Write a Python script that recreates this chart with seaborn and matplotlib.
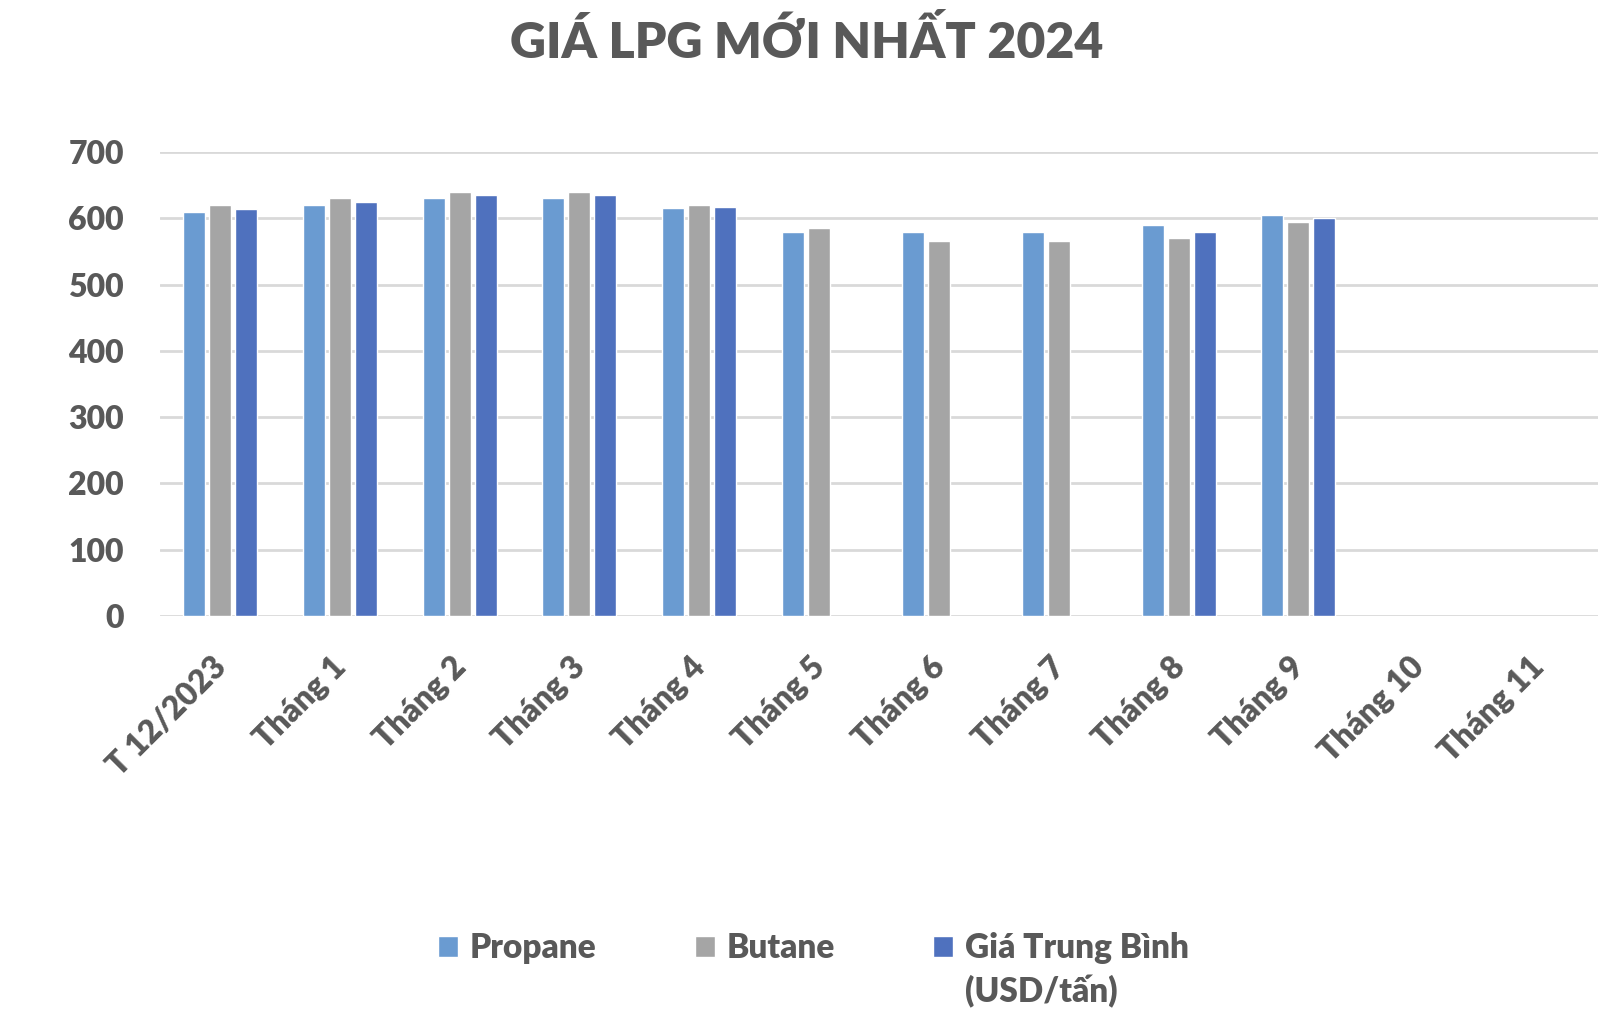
import matplotlib
matplotlib.use("Agg")
import matplotlib.pyplot as plt
import matplotlib.transforms as mtransforms
import seaborn as sns
import pandas as pd
import numpy as np

categories = ["T 12/2023", "Tháng 1", "Tháng 2", "Tháng 3", "Tháng 4", "Tháng 5",
              "Tháng 6", "Tháng 7", "Tháng 8", "Tháng 9", "Tháng 10", "Tháng 11"]
propane = [610, 620, 630, 630, 615, 580, 580, 580, 590, 605, np.nan, np.nan]
butane = [620, 630, 640, 640, 620, 585, 565, 565, 570, 595, np.nan, np.nan]
average = [614, 625, 635, 635, 617, np.nan, np.nan, np.nan, 580, 600, np.nan, np.nan]
series_names = ["Propane", "Butane", "Giá Trung Bình"]
series_unit = "(USD/tấn)"
colors = ["#6A9BD1", "#A5A5A5", "#4F71BE"]
yticks = [0, 100, 200, 300, 400, 500, 600, 700]

rows = []
for name, vals in zip(series_names, [propane, butane, average]):
    for c, v in zip(categories, vals):
        rows.append({"cat": c, "series": name, "value": v})
df = pd.DataFrame(rows)

sns.set_theme(style="white")
plt.rcParams["font.family"] = ["Lato", "DejaVu Sans"]
text_color = "#595959"
W = "heavy"

fig = plt.figure(figsize=(16.14, 10.18), dpi=100)
ax = fig.add_axes([160 / 1614, 1 - 616 / 1018, (1598 - 160) / 1614, (616 - 152) / 1018])

sns.barplot(data=df, x="cat", y="value", hue="series", order=categories,
            hue_order=series_names, palette=colors, width=0.65, gap=0.15,
            errorbar=None, ax=ax, saturation=1, legend=True)

ax.set_ylim(0, 700)
ax.set_xlim(-0.5, len(categories) - 0.5)
ax.set_yticks(yticks)
ax.yaxis.grid(True, color="#D9D9D9", linewidth=2)
ax.set_axisbelow(True)
for s in ax.spines.values():
    s.set_visible(False)
ax.set_xlabel("")
ax.set_ylabel("")
ax.tick_params(axis="both", length=0)
ax.tick_params(axis="y", pad=26)
ax.tick_params(axis="x", pad=26)
for lab in ax.get_yticklabels():
    lab.set_fontsize(23)
    lab.set_fontweight(W)
    lab.set_color(text_color)
shift = mtransforms.ScaledTranslation(-9 / 100, 0, fig.dpi_scale_trans)
for lab in ax.get_xticklabels():
    lab.set_fontsize(23)
    lab.set_fontweight(W)
    lab.set_color(text_color)
    lab.set_rotation(45)
    lab.set_ha("right")
    lab.set_va("top")
    lab.set_rotation_mode("anchor")
    lab.set_transform(lab.get_transform() + shift)

handles, labels = ax.get_legend_handles_labels()
ax.get_legend().remove()
leg = fig.legend(handles, labels, loc="upper center", bbox_to_anchor=(0.504, 0.114),
                 ncol=3, frameon=False, fontsize=24, handlelength=0.6, handleheight=0.6,
                 handletextpad=0.35, columnspacing=2.95)
for t in leg.get_texts():
    t.set_color(text_color)
    t.set_fontweight(W)

fig.text(0.5, 1 - 42 / 1018, "GIÁ LPG MỚI NHẤT 2024", ha="center", va="center",
         fontsize=36, fontweight=W, color=text_color)

# second line of the third legend label, placed under its first line
fig.canvas.draw()
renderer = fig.canvas.get_renderer()
bb = leg.get_texts()[2].get_window_extent(renderer)
x0, y0 = fig.transFigure.inverted().transform((bb.x0, bb.y0))
fig.text(x0, y0 - 0.011, series_unit, ha="left", va="top", fontsize=24,
         fontweight=W, color=text_color)

fig.savefig("out.png", dpi=100, facecolor="white")
